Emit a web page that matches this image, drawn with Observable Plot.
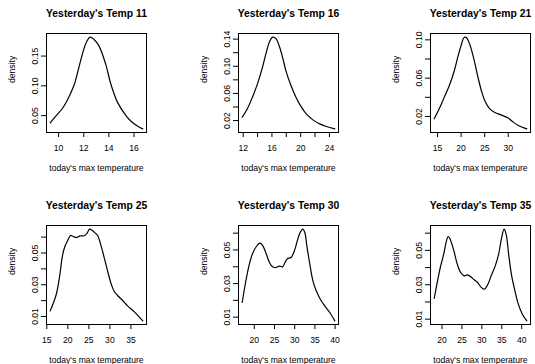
<!DOCTYPE html>
<html><head><meta charset="utf-8">
<script src="https://cdn.jsdelivr.net/npm/d3@7"></script>
<script src="https://cdn.jsdelivr.net/npm/@observablehq/plot@0.6"></script>
<style>
html,body{margin:0;padding:0;background:#fff;}
#grid{position:relative;width:535px;height:364px;overflow:hidden;background:#fff;}
.cell{position:absolute;width:192px;height:192px;}
</style></head><body><div id="grid"></div>
<script>
const titles = ["Yesterday's Temp 11","Yesterday's Temp 16","Yesterday's Temp 21","Yesterday's Temp 25","Yesterday's Temp 30","Yesterday's Temp 35"];
const xLabel = "today's max temperature";
const yLabel = "density";

const curve11 = [[9.33,.0378],[9.81,.050],[10.27,.0611],[10.67,.075],[11.21,.100],[11.61,.1306],[11.96,.1583],[12.23,.1739],[12.49,.1817],[12.82,.1778],[13.22,.1667],[13.75,.1361],[14.16,.1028],[14.69,.0722],[15.36,.050],[15.76,.0406],[16.30,.0322],[16.70,.0278]];
const curve16 = [[11.86,.0249],[12.56,.0371],[13.27,.0541],[13.97,.0737],[14.67,.0980],[15.14,.1176],[15.61,.1346],[16.08,.1429],[16.55,.1410],[17.02,.1298],[17.49,.1127],[17.95,.0932],[18.66,.0712],[19.36,.0541],[20.06,.0405],[20.77,.0298],[21.70,.0210],[22.64,.0151],[23.58,.0112],[24.75,.0078]];
const curve21 = [[14.29,.0176],[15.36,.0280],[16.43,.0402],[17.50,.0523],[18.57,.0680],[19.29,.0819],[20.00,.0941],[20.57,.1021],[21.00,.1028],[21.57,.0986],[22.14,.0906],[22.86,.0767],[23.57,.0610],[24.29,.0471],[25.00,.0367],[26.07,.0280],[27.14,.0242],[28.57,.0214],[30.00,.0183],[31.07,.0141],[32.14,.0106],[33.93,.0071]];
const curve25 = [[15.81,.01356],[16.45,.01774],[17.26,.02402],[18.06,.03552],[18.71,.04808],[19.27,.05393],[20.08,.05854],[20.65,.06105],[21.29,.06042],[22.10,.05979],[22.90,.06084],[23.87,.06084],[24.52,.06230],[25.16,.06502],[25.73,.06439],[26.53,.06251],[27.10,.06105],[27.74,.05603],[28.55,.04808],[29.35,.03971],[30.16,.03176],[30.97,.02611],[31.77,.02339],[32.98,.02025],[34.19,.01669],[35.81,.01293],[37.82,.00728]];
const curve30 = [[17.00,.01873],[17.83,.03063],[18.67,.04056],[19.50,.04750],[20.50,.05206],[21.33,.05405],[22.00,.05286],[22.83,.04849],[23.67,.04294],[24.50,.03996],[25.33,.03956],[26.17,.04036],[27.00,.03996],[27.67,.04294],[28.25,.04492],[29.08,.04552],[29.92,.04948],[30.75,.05643],[31.42,.06079],[32.00,.06238],[32.50,.06040],[33.00,.05246],[33.67,.04254],[34.50,.03163],[35.33,.02567],[36.33,.02071],[37.42,.01675],[38.67,.01278],[39.92,.00782]];
const curve35 = [[18.04,.02202],[18.72,.03035],[19.57,.04004],[20.43,.04779],[21.11,.05554],[21.53,.05806],[21.96,.05690],[22.98,.04973],[23.83,.04198],[24.68,.03713],[25.53,.03519],[26.38,.03578],[27.23,.03461],[28.09,.03287],[28.94,.03132],[29.79,.02860],[30.64,.02744],[31.49,.03016],[32.34,.03519],[33.36,.04101],[34.21,.04779],[34.89,.05651],[35.57,.06233],[36.09,.05942],[36.77,.04682],[37.45,.03558],[38.30,.02647],[39.15,.01872],[40.17,.01291],[41.28,.00903]];

const xTicks = [[10,12,14,16],[12,14,16,18,20,22,24],[15,20,25,30],[15,20,25,30,35],[20,25,30,35,40],[20,25,30,35,40]];
const xTickLabels = [[10,12,14,16],[12,16,20,24],[15,20,25,30],[15,20,25,30,35],[20,25,30,35,40],[20,25,30,35,40]];
const yTicks = [[0.05,0.10,0.15],[0.02,0.04,0.06,0.08,0.10,0.12,0.14],[0.02,0.04,0.06,0.08,0.10],[0.01,0.02,0.03,0.04,0.05,0.06],[0.01,0.02,0.03,0.04,0.05,0.06],[0.01,0.02,0.03,0.04,0.05,0.06]];
const yTickLabels = [[0.05,0.10,0.15],[0.02,0.06,0.10,0.14],[0.02,0.06,0.10],[0.01,0.03,0.05],[0.01,0.03,0.05],[0.01,0.03,0.05]];

const curves = [curve11, curve16, curve21, curve25, curve30, curve35];
const has = (arr, v) => arr.some(a => Math.abs(a - v) < 1e-9);
const fmtY = d3.format(".2f");
const grid = document.getElementById("grid");

curves.forEach((curve, i) => {
  const [x0, x1] = d3.extent(curve, d => d[0]);
  const [y0, y1] = d3.extent(curve, d => d[1]);
  const px = (x1 - x0) * 0.04, py = (y1 - y0) * 0.04;
  const fig = Plot.plot({
    width: 192, height: 192,
    marginLeft: 46, marginRight: 46, marginTop: 33, marginBottom: 60,
    style: {fontFamily: "'Liberation Sans', Arial, sans-serif", fontSize: "8.6px", color: "#000", background: "#fff", overflow: "visible"},
    x: {domain: [x0 - px, x1 + px]},
    y: {domain: [y0 - py, y1 + py]},
    marks: [
      Plot.frame({stroke: "#000", strokeWidth: 1}),
      Plot.line(curve, {x: d => d[0], y: d => d[1], stroke: "#000", strokeWidth: 1.2, curve: "catmull-rom"}),
      Plot.axisX({ticks: xTicks[i], tickSize: 5, tickPadding: 7, label: null,
        tickFormat: d => has(xTickLabels[i], d) ? String(d) : ""}),
      Plot.axisY({ticks: yTicks[i], tickSize: 5, tickPadding: 4, tickRotate: -90, label: null,
        tickFormat: d => has(yTickLabels[i], d) ? fmtY(d) : ""}),
      Plot.text([titles[i]], {frameAnchor: "top", dy: -24, fontSize: 10.4, fontWeight: "bold", text: d => d}),
      Plot.text([xLabel], {frameAnchor: "bottom", dy: 38, text: d => d}),
      Plot.text([yLabel], {frameAnchor: "left", dx: -34, rotate: -90, text: d => d})
    ]
  });
  const cell = document.createElement("div");
  cell.className = "cell";
  cell.style.left = (192 * (i % 3)) + "px";
  cell.style.top = (192 * Math.floor(i / 3)) + "px";
  cell.appendChild(fig);
  grid.appendChild(cell);
});
</script></body></html>
